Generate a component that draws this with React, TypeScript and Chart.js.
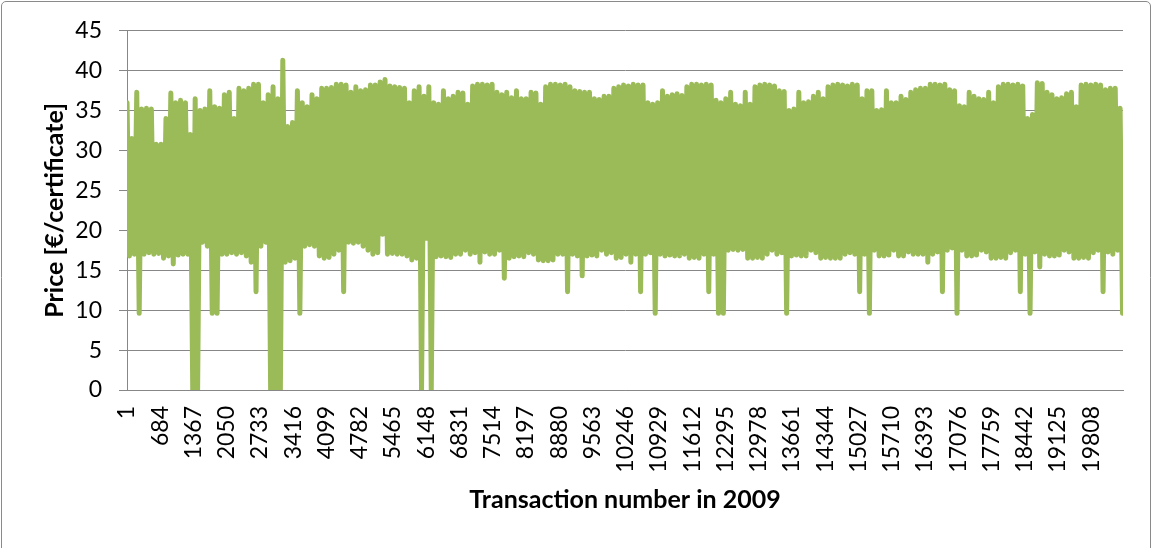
import { useEffect, useRef } from 'react';
import { Chart, registerables } from 'chart.js';

Chart.register(...registerables);

// ---- data ----
const TOTAL_TRANSACTIONS = 20460;
const SAMPLE_STEP = 50; // transactions between two plotted samples

const tickLabels = [
  1, 684, 1367, 2050, 2733, 3416, 4099, 4782, 5465, 6148, 6831, 7514, 8197, 8880, 9563,
  10246, 10929, 11612, 12295, 12978, 13661, 14344, 15027, 15710, 16393, 17076, 17759,
  18442, 19125, 19808,
];

// local price peaks (every 2nd sample)
const highs = [
  36, 31.5, 37.3, 35.2, 35.3, 35.2, 30.8, 30.8, 34, 37.2,
  36, 36.3, 36, 32, 36.5, 35, 35.2, 37.5, 35.5, 35.3,
  37, 37.3, 34, 37.8, 37.5, 37.8, 38.3, 38.3, 36, 37,
  38, 36.5, 41.3, 33, 33.5, 37.5, 36, 35.5, 37, 36.5,
  37.8, 37.8, 37.9, 38.3, 38.3, 38.2, 37.3, 38, 37.5, 37.6,
  38.2, 38.2, 38.6, 38.9, 38.1, 38, 37.9, 37.8, 36, 37.5,
  38, 36.8, 38, 36, 35.8, 37.5, 36.5, 36.8, 37.3, 37.2,
  35.8, 38.1, 38.3, 38.3, 38.2, 38.3, 37.3, 37, 37.3, 36.6,
  37.5, 36.5, 36.5, 37.3, 37.2, 35.8, 38, 38.3, 38.3, 38.2,
  38.3, 38, 37.5, 37.4, 37.3, 37.3, 36.5, 36.4, 36.8, 36.8,
  37.8, 38, 38.2, 38.1, 38.3, 38.2, 38.2, 36, 35.8, 36,
  37.5, 36.8, 37, 37.1, 36.9, 38, 38.3, 38.3, 38.2, 38.3,
  38.2, 36.3, 36, 36.5, 37.3, 35.8, 35.6, 37.3, 35.8, 38,
  38.2, 38.3, 38.2, 38.1, 37.5, 37.4, 35, 35.2, 37.3, 36,
  36.1, 36.8, 37.3, 36.5, 38, 38.2, 38.3, 38.2, 38.1, 38.3,
  38.2, 36.5, 37.5, 37.5, 35, 35.1, 37.5, 36, 36, 36.8,
  36.4, 37.3, 37.6, 37.8, 37.8, 38.3, 38.3, 38.2, 38.3, 37.6,
  37.5, 35.6, 35.5, 37.3, 36.8, 36.5, 36.4, 37.3, 36, 38,
  38.3, 38.3, 38.2, 38.3, 38.1, 34, 34.5, 38.5, 38.4, 37.3,
  37, 36.5, 36.6, 37.1, 37.3, 35.5, 38.2, 38.3, 38.2, 38.3,
  38.2, 37.6, 37.8, 37.8, 35.3,
];

// local price troughs (the samples in between)
const lows = [
  16.8, 17, 9.6, 17, 17.2, 17, 17.1, 16.5, 16.8, 15.8,
  16.9, 17, 17, 0, 0, 18.5, 18, 9.6, 9.6, 17,
  17, 17.2, 17, 17.2, 16.8, 16, 12.3, 18, 18.5, 0,
  0, 0, 16, 16.2, 16.5, 9.6, 18, 18.2, 18, 16.8,
  16.5, 16.6, 17, 17.5, 12.3, 18.5, 18.4, 18.5, 18, 17.5,
  17, 17.2, 19.5, 17, 17.1, 17, 17, 16.8, 16.3, 16.5,
  0, 19, 0, 16.7, 16.8, 16.7, 16.6, 17, 17, 17.5,
  17, 17.2, 16, 17.3, 17, 17, 17.5, 14, 16.5, 16.7,
  16.8, 16.7, 17.2, 17, 16.3, 16.2, 16.2, 16.3, 17, 17,
  12.3, 17, 16.8, 14.3, 16.8, 16.9, 16.8, 17.5, 17, 17.2,
  16.5, 16.6, 17, 16, 17, 12.3, 17, 17.2, 9.6, 17,
  16.8, 16.9, 16.8, 16.8, 17, 16.5, 16.6, 16.5, 17, 12.3,
  17, 9.6, 9.6, 17.5, 17.6, 17.5, 17.6, 16.5, 16.5, 16.6,
  16.5, 17, 17.5, 17, 17.2, 9.6, 16.8, 16.9, 16.8, 16.8,
  17.5, 17.2, 16.5, 16.6, 16.5, 16.5, 16.5, 17, 17.2, 17,
  12.3, 17, 9.6, 17.5, 16.8, 16.8, 16.9, 17.5, 16.8, 16.8,
  17.3, 17, 17, 17, 16, 17, 17.3, 12.3, 17.5, 17.8,
  9.6, 17.5, 16.8, 16.8, 16.9, 17.5, 17.3, 16.5, 16.5, 16.6,
  16.5, 17.2, 17.5, 12.3, 17, 9.6, 17.3, 15.4, 17, 16.8,
  16.8, 16.9, 17.5, 17.3, 16.5, 16.5, 16.6, 16.5, 17.2, 17.5,
  12.3, 17.3, 17, 17.5, 9.6,
];

const Y_TITLE = 'Price [€/certificate]';
const X_TITLE = 'Transaction number in 2009';

// build the point table from the arrays above
function buildPoints() {
  const pts: { x: number; y: number }[] = [];
  for (let k = 0; k < highs.length; k++) {
    pts.push({ x: 1 + 2 * k * SAMPLE_STEP, y: highs[k] });
    if (k < lows.length) pts.push({ x: 1 + (2 * k + 1) * SAMPLE_STEP, y: lows[k] });
  }
  return pts;
}

const FONT = 'Lato, "Open Sans", "DejaVu Sans", sans-serif';
const GRID = '#878787';

const frame = {
  id: 'frame',
  afterDraw(chart: any) {
    const ctx = chart.ctx;
    ctx.save();
    ctx.strokeStyle = '#8a8a8a';
    ctx.lineWidth = 1;
    ctx.beginPath();
    ctx.moveTo(1.5, 560);
    ctx.lineTo(1.5, 6);
    ctx.arcTo(1.5, 1.5, 6, 1.5, 4.5);
    ctx.lineTo(1146, 1.5);
    ctx.arcTo(1150.5, 1.5, 1150.5, 6, 4.5);
    ctx.lineTo(1150.5, 560);
    ctx.stroke();
    ctx.restore();
  },
};

export default function App() {
  const ref = useRef<HTMLCanvasElement | null>(null);
  useEffect(() => {
    if (!ref.current) return;
    const chart = new Chart(ref.current, {
      type: 'line',
      data: {
        datasets: [
          {
            data: buildPoints(),
            borderColor: '#9BBB59',
            backgroundColor: '#9BBB59',
            borderWidth: 5,
            pointRadius: 0,
            tension: 0,
            borderJoinStyle: 'round',
            borderCapStyle: 'round',
            fill: false,
          },
        ],
      },
      options: {
        animation: false,
        responsive: false,
        devicePixelRatio: 1,
        layout: { padding: { top: 30, right: 29, bottom: 0, left: 0 } },
        plugins: { legend: { display: false }, tooltip: { enabled: false } },
        scales: {
          x: {
            type: 'linear',
            min: 0.5,
            max: TOTAL_TRANSACTIONS + 0.5,
            afterBuildTicks: (s: any) => {
              s.ticks = tickLabels.map((v) => ({ value: v }));
            },
            afterFit: (s: any) => {
              s.height = 158;
            },
            grid: { display: false, drawTicks: false },
            border: { display: true, color: GRID, width: 1 },
            ticks: {
              autoSkip: false,
              maxRotation: 90,
              minRotation: 90,
              padding: 16,
              color: '#000',
              font: { family: FONT, size: 23 },
              callback: (v: any) => String(v),
            },
            title: {
              display: true,
              text: X_TITLE,
              color: '#000',
              font: { family: FONT, size: 25, weight: 'bold' },
              padding: { top: 0, bottom: 33 },
            },
          },
          y: {
            min: 0,
            max: 45,
            afterFit: (s: any) => {
              s.width = 127;
            },
            grid: { color: GRID, lineWidth: 1, drawTicks: true, tickLength: 8 },
            border: { display: true, color: GRID, width: 1 },
            ticks: {
              stepSize: 5,
              padding: 17,
              color: '#000',
              font: { family: FONT, size: 23 },
            },
            title: {
              display: true,
              text: Y_TITLE,
              color: '#000',
              font: { family: FONT, size: 25, weight: 'bold' },
              padding: { top: 40, bottom: 0 },
            },
          },
        },
      },
      plugins: [frame],
    });
    return () => chart.destroy();
  }, []);
  return (
    <div style={{ position: 'fixed', left: 0, top: 0, width: 1152, height: 548, background: '#fff' }}>
      <canvas ref={ref} width={1152} height={548} />
    </div>
  );
}
